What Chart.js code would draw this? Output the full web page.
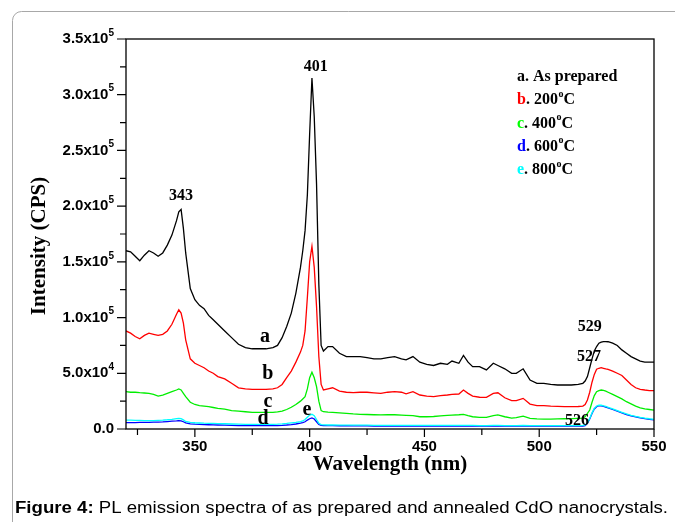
<!DOCTYPE html>
<html>
<head>
<meta charset="utf-8">
<script src="https://cdn.jsdelivr.net/npm/chart.js@4.4.1/dist/chart.umd.min.js"></script>
<style>
html,body{margin:0;padding:0;background:#fff;}
#wrap{position:relative;width:675px;height:522px;}
</style>
</head>
<body>
<div id="wrap"><canvas id="c" width="675" height="522"></canvas></div>
<script>
// Wavelength (nm)
const wavelength = [
 320,322,324,326,328,330,332,334,336,338,
 340,342,343,344,345,346,348,350,352,354,
 356,358,360,363,366,369,372,375,378,381,
 384,386,388,390,392,394,396,397,398,399,
 400,401,402,403,404,405,406,408,410,413,
 416,419,422,425,428,431,434,437,440,442,
 445,448,451,454,457,460,462,465,467,469,
 471,474,477,480,482,485,488,490,493,496,
 499,502,505,508,511,514,517,519,520,521,
 522,523,524,525,526,527,528,529,530,532,
 534,536,538,540,542,544,546,548,550];
// Intensity in units of 10^3 CPS
const asPrepared = [
 160,159,155,151,156,160,158,155,158,165,
 174,187,195,197,180,158,126,116,111,108,
 102,98,94,88,82,76,73,72,72,72,
 73,75,82,92,104,122,145,160,178,210,
 265,315,280,220,130,75,70,74,74,68,
 65,65,65,64,63,63,64,65,63,62,
 65,60,58,57,59,58,61,59,66,60,
 56,56,53,59,57,54,50,50,54,44,
 41,41,40,39.5,39.5,39.5,40,41,43,47,
 55,63,70,74,77,78,78.5,78.5,78.3,77,
 75,71,68,65,63,61,60,60,60];
const t200 = [
 88,86,83,81,84,86,85,84,85,88,
 94,103,107,104,95,80,63,59,57,55,
 52,50,47,45,41,37,36,35.6,35.6,35.6,
 36,37,40,46,52,60,69,75,88,118,
 150,164,145,110,65,40,35,36,37,34,
 33,32.6,33,33,32.5,32,33,33.5,33,31.5,
 33.5,30.5,29.5,29,30,30.5,31,31.4,35,32,
 29.6,28.5,28.4,32,32.5,28,25.4,25.5,27.5,22.4,
 21,21,20.5,20.3,20,20,20.2,20.6,22,26,
 33,42,49,53.6,54.5,55,54.5,54,53.6,52,
 50,48,44,40,37,35.6,35,34.5,34.4];
const t400 = [
 33.5,33,33,32.6,32.3,32,31,29.6,30.5,32,
 33.5,35,35.9,35,32,29,24,22,21,20.5,
 20,19.3,18.6,17.8,16.5,16,15.5,15,15,15,
 15,15.3,16,17.5,19.5,22,25,27,29,36,
 46,51,46,38,25,16.5,15.5,15.2,15,14.5,
 14,13.5,13.2,13,12.8,12.6,12.8,12.8,12.5,12.3,
 12,11,11,11.2,11.8,12.2,12.4,12.8,13.2,12,
 11,10.5,10.5,12,12.6,11,9.8,10.2,11.5,9.6,
 9,8.8,8.8,9,9.2,9.4,9.6,9.8,11,14,
 17,24,30,33.5,34.5,35,34.6,34,33,31,
 29,27,24.5,22.5,20.5,19,18,17.5,17];
const t600 = [
 5.7,5.8,5.8,5.9,6,6,6.1,6.2,6.4,6.7,
 7,7.3,7.5,7.3,6.5,5.5,4.6,4.3,4.1,3.9,
 3.8,3.7,3.6,3.4,3.2,3.1,3,3,3,3,
 3,3.1,3.3,3.6,4,4.5,5.2,5.7,6.5,8,
 9.2,10,9,6.5,4,3.2,3,3,3,2.9,
 2.9,2.8,2.8,2.8,2.7,2.7,2.7,2.7,2.7,2.6,
 2.6,2.6,2.6,2.6,2.6,2.6,2.6,2.6,2.7,2.6,
 2.6,2.5,2.5,2.6,2.6,2.5,2.5,2.5,2.6,2.5,
 2.5,2.5,2.5,2.5,2.5,2.5,2.5,2.6,3,5,
 9,14,18,20,21,20.8,20.3,19.7,19,17.5,
 16,14.5,13,11.8,10.8,10,9.3,8.7,8.2];
const t800 = [
 8,7.9,7.8,7.7,7.6,7.5,7.6,7.8,8,8.3,
 8.7,9.3,9.6,9.3,8.2,6.8,5.9,5.6,5.4,5.2,
 5.1,5,4.9,4.7,4.5,4.3,4.2,4.2,4.2,4.2,
 4.2,4.3,4.6,5,5.5,6,6.6,7.2,8.5,10.5,
 12.5,13.2,12,8.5,5.2,4,3.7,3.6,3.6,3.5,
 3.5,3.4,3.4,3.4,3.3,3.3,3.3,3.3,3.3,3.2,
 3.2,3.2,3.2,3.2,3.2,3.2,3.2,3.2,3.3,3.2,
 3.2,3.1,3.1,3.2,3.2,3.1,3.1,3.1,3.2,3.1,
 3.1,3.1,3.1,3.1,3.1,3.1,3.1,3.2,3.6,5.5,
 9.5,14.5,18.5,20.5,21.5,21.3,20.8,20.2,19.5,18,
 16.5,15,13.5,12.3,11.3,10.5,9.8,9.2,8.7];

const seriesKeys = ['a','b','c','d','e'];
const seriesNames = ['As prepared','200','400','600','800'];
const seriesColors = ['#000000','#ff0000','#00ee00','#0000ff','#00ffff'];
const seriesValues = [asPrepared, t200, t400, t600, t800];

const xMajorTicks = [350,400,450,500,550];
const xMinorTicks = [325,375,425,475,525];
const yMajorTicks = [0,50,100,150,200,250,300,350];
const yMinorTicks = [25,75,125,175,225,275,325];
const yTickBases = ['0.0','5.0x10','1.0x10','1.5x10','2.0x10','2.5x10','3.0x10','3.5x10'];
const yTickExps  = ['','4','5','5','5','5','5','5'];

// peak and curve labels: text, wavelength, intensity (10^3 CPS)
const peakLabels = [['343',344,209],['401',402.7,325],['529',522,92],['527',521.7,64.6],['526',516.5,7.2]];
const curveLabels = [['a',380.5,82.6],['b',381.8,49.4],['c',381.8,24.2],['d',379.7,9],['e',398.8,17]];

const datasets = seriesValues.map((vals,i)=>({
  label: seriesKeys[i],
  data: wavelength.map((w,j)=>({x:w,y:vals[j]})),
  borderColor: seriesColors[i],
  borderWidth: 1.3,
  pointRadius: 0,
  tension: 0,
  fill: false,
  order: i===0 ? 0 : 5-i
}));

const SERIF = '"Liberation Serif","Times New Roman",serif';
const SANS = '"Liberation Sans",Arial,sans-serif';

const deco = {
  id:'deco',
  beforeDraw(chart){
    const ctx = chart.ctx;
    ctx.save();
    ctx.fillStyle='#fff'; ctx.fillRect(0,0,chart.width,chart.height);
    ctx.strokeStyle='#a8a8a8'; ctx.lineWidth=1;
    const x0=12.5,y0=11.5,r=9,x1=720,y1=600;
    ctx.beginPath();
    ctx.moveTo(x0, y1); ctx.lineTo(x0, y0+r); ctx.arcTo(x0,y0,x0+r,y0,r); ctx.lineTo(x1,y0);
    ctx.stroke();
    ctx.restore();
  },
  afterDraw(chart){
    const ctx = chart.ctx, ca = chart.chartArea, xs = chart.scales.x, ys = chart.scales.y;
    ctx.save();
    ctx.strokeStyle='#000'; ctx.lineWidth=1.3;
    ctx.strokeRect(ca.left, ca.top, ca.right-ca.left, ca.bottom-ca.top);
    ctx.lineWidth=1.2;
    ctx.beginPath();
    xMajorTicks.forEach(v=>{const p=xs.getPixelForValue(v); ctx.moveTo(p,ca.bottom); ctx.lineTo(p,ca.bottom+8);});
    xMinorTicks.forEach(v=>{const p=xs.getPixelForValue(v); ctx.moveTo(p,ca.bottom); ctx.lineTo(p,ca.bottom+6);});
    yMajorTicks.forEach(v=>{const p=ys.getPixelForValue(v); ctx.moveTo(ca.left,p); ctx.lineTo(ca.left-9,p);});
    yMinorTicks.forEach(v=>{const p=ys.getPixelForValue(v); ctx.moveTo(ca.left,p); ctx.lineTo(ca.left-6,p);});
    ctx.stroke();
    ctx.fillStyle='#000';
    ctx.font='bold 15px '+SANS; ctx.textAlign='center'; ctx.textBaseline='top';
    xMajorTicks.forEach(v=>{ ctx.fillText(String(v), xs.getPixelForValue(v), ca.bottom+10); });
    yMajorTicks.forEach((v,i)=>{
      const p = ys.getPixelForValue(v);
      const xr = ca.left-12;
      ctx.textBaseline='middle';
      ctx.font='bold 10px '+SANS;
      const sw = yTickExps[i] ? ctx.measureText(yTickExps[i]).width : 0;
      ctx.font='bold 15px '+SANS; ctx.textAlign='right';
      ctx.fillText(yTickBases[i], xr-sw, p);
      if (yTickExps[i]) { ctx.font='bold 10px '+SANS; ctx.textAlign='left'; ctx.fillText(yTickExps[i], xr-sw, p-6); }
    });
    ctx.font='bold 21px '+SERIF; ctx.textAlign='center'; ctx.textBaseline='middle';
    ctx.fillText('Wavelength (nm)', (ca.left+ca.right)/2, ca.bottom+36);
    ctx.save(); ctx.translate(40,(ca.top+ca.bottom)/2+12); ctx.rotate(-Math.PI/2);
    ctx.fillText('Intensity (CPS)',0,0); ctx.restore();
    ctx.font='bold 16px '+SERIF; ctx.textAlign='center'; ctx.textBaseline='middle';
    peakLabels.forEach(l=>ctx.fillText(l[0], xs.getPixelForValue(l[1]), ys.getPixelForValue(l[2])));
    ctx.font='bold 20px '+SERIF;
    curveLabels.forEach(l=>ctx.fillText(l[0], xs.getPixelForValue(l[1]), ys.getPixelForValue(l[2])));
    const lx = ca.left+391; let ly = ca.top+38;
    ctx.textAlign='left'; ctx.textBaseline='middle';
    seriesKeys.forEach((k,i)=>{
      let x = lx;
      ctx.font='bold 16px '+SERIF;
      ctx.fillStyle = seriesColors[i]==='#00ee00' ? '#00ff00' : seriesColors[i];
      ctx.fillText(k, x, ly); x += ctx.measureText(k).width;
      ctx.fillStyle='#000';
      const t = '. '+seriesNames[i];
      ctx.fillText(t, x, ly); x += ctx.measureText(t).width;
      if (i>0){
        ctx.font='bold 10px '+SERIF; ctx.fillText('o', x+0.5, ly-6); x += ctx.measureText('o').width+0.5;
        ctx.font='bold 16px '+SERIF; ctx.fillText('C', x, ly);
      }
      ly += 23.3;
    });
    // caption, stretched horizontally to the reference width
    ctx.textBaseline='alphabetic';
    const capA='Figure 4:', capB=' PL emission spectra of as prepared and annealed CdO nanocrystals.';
    ctx.font='bold 16px '+SANS; const wa = ctx.measureText(capA).width;
    ctx.font='16px '+SANS; const wb = ctx.measureText(capB).width;
    const sx = 653/(wa+wb);
    ctx.save(); ctx.translate(15,513); ctx.scale(sx,1);
    ctx.font='bold 16px '+SANS; ctx.fillText(capA,0,0);
    ctx.font='16px '+SANS; ctx.fillText(capB,wa,0);
    ctx.restore();
    ctx.restore();
  }
};

new Chart(document.getElementById('c'), {
  type:'line',
  data:{datasets},
  options:{
    responsive:false, animation:false, devicePixelRatio:1,
    layout:{padding:{left:126,right:21,top:39,bottom:93}},
    plugins:{legend:{display:false},tooltip:{enabled:false}},
    scales:{
      x:{type:'linear',min:320,max:550,display:false},
      y:{type:'linear',min:0,max:350,display:false}
    }
  },
  plugins:[deco]
});
</script>
</body>
</html>
